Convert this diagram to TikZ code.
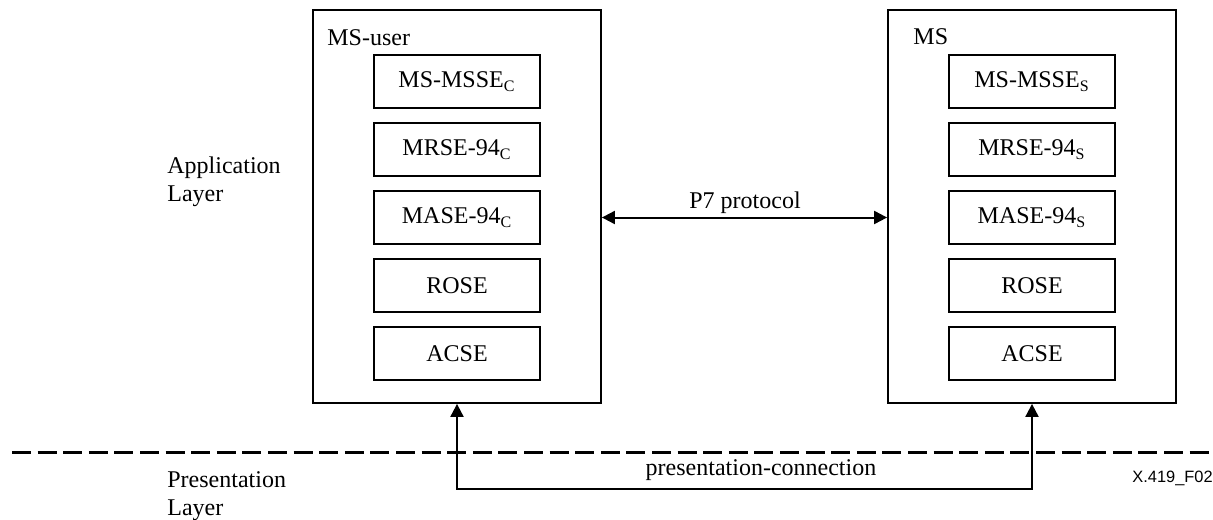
\documentclass[tikz,border=0pt]{standalone}
\usepackage{fontspec}
\setmainfont{Liberation Serif}
\newfontfamily\figfont{Liberation Sans}
\usepackage{tikz}
\usetikzlibrary{positioning,arrows.meta}

\begin{document}
\begin{tikzpicture}[x=0.5pt,y=-0.5pt,font=\fontsize{12}{14}\selectfont,
  entity/.style={draw,line width=0.9pt,minimum width=144pt,minimum height=196.5pt},
  element/.style={draw,line width=0.9pt,minimum width=83pt,minimum height=26.5pt,inner sep=0pt},
  lbl/.style={inner sep=0pt},
  arr/.style={line width=1pt,{Triangle[length=6.5pt,width=6.5pt]}-{Triangle[length=6.5pt,width=6.5pt]}},
  layerline/.style={line width=1.5pt,dash pattern=on 9.5pt off 3.3pt}]
  \useasboundingbox (0,0) rectangle (1213,519);
  \node[entity] (user) at (457,206.5) {};
  \node[entity] (ms) at (1032,206.5) {};
  \node[lbl,anchor=base west] (userlbl) at (327,46) {MS-user};
  \node[lbl,anchor=base west] (mslbl) at (913,45) {MS};
  \foreach \side/\sub/\xx in {u/C/457,s/S/1032} {
    \node[element] (\side1) at (\xx,81.5) {MS-MSSE\textsubscript{\sub}};
    \node[element] (\side2) at (\xx,149.5) {MRSE-94\textsubscript{\sub}};
    \node[element] (\side3) at (\xx,217.5) {MASE-94\textsubscript{\sub}};
    \node[element] (\side4) at (\xx,285.5) {ROSE};
    \node[element] (\side5) at (\xx,353.5) {ACSE};
  }
  \node[lbl,anchor=west,align=left] (app) at (167,182) {Application\\Layer};
  \node[lbl,anchor=west,align=left] (pres) at (167,496) {Presentation\\Layer};
  \node[lbl,anchor=base] (p7) at (745,208) {P7 protocol};
  \draw[arr] (user.east |- u3) -- (ms.west |- s3);
  \coordinate (sepL) at (12,452);
  \coordinate (sepR) at (1213,452);
  \draw[layerline] (sepL) -- (sepR);
  \coordinate (pcl) at (745,489);
  \node[lbl,anchor=base] (pc) at (761,475) {presentation-connection};
  \draw[arr] (user.south) |- (pcl) -| (ms.south);
  \node[lbl,anchor=base west,font=\figfont\fontsize{8.2}{10}\selectfont] (fig) at (1132,482) {X.419\_F02};
\end{tikzpicture}
\end{document}
